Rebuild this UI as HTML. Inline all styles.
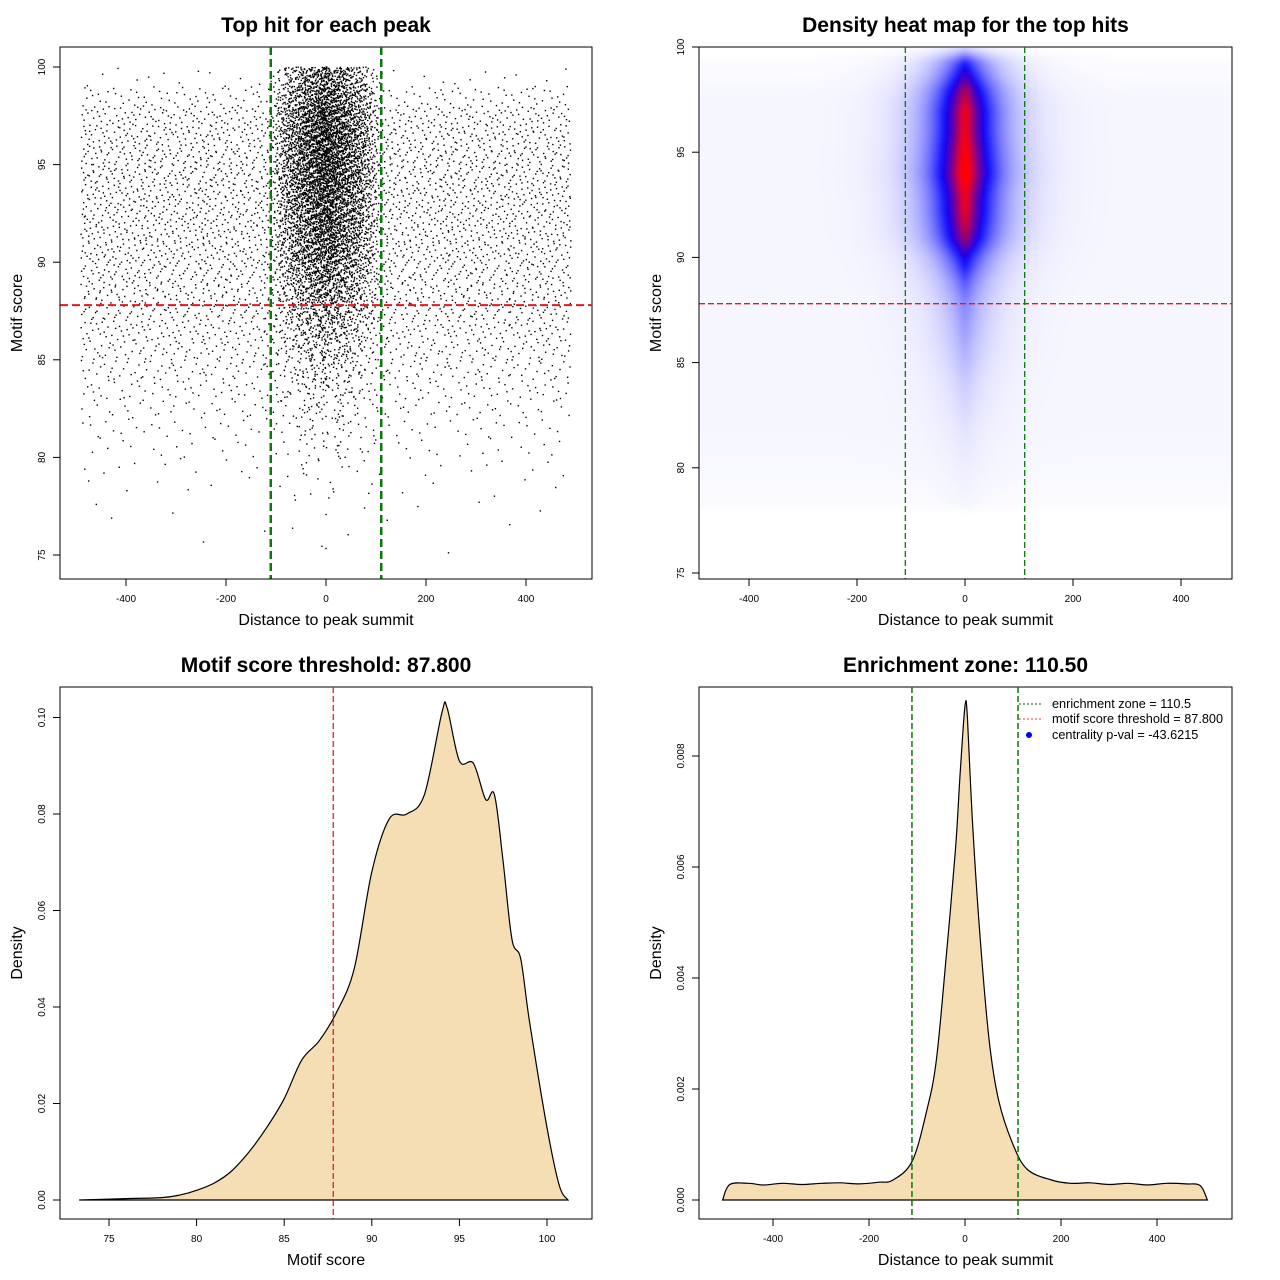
<!DOCTYPE html>
<html><head><meta charset="utf-8"><style>
html,body{margin:0;padding:0;background:#fff;}
svg{display:block;font-family:"Liberation Sans",sans-serif;}
</style></head><body>
<svg id="fig" xmlns="http://www.w3.org/2000/svg" width="1280" height="1280" viewBox="0 0 1280 1280">
<defs>
<clipPath id="clip2"><rect x="700" y="48" width="531" height="530"/></clipPath>
<filter id="blur2" x="-5%" y="-5%" width="110%" height="110%"><feGaussianBlur stdDeviation="3"/></filter>
</defs>
</svg>
<script>
// ---------- DATA ----------
const scatterBins = [75,76,77,78,79,80,81,82,83,84,85,86,87,88,89,90,91,92,93,94,95,96,97,98,99];
const bgCounts = [3,4,6,15,25,40,60,90,120,160,200,230,260,280,300,320,330,340,340,340,330,310,270,140,30];
const centralCounts = [1,2,3,5,8,15,22,30,45,60,100,150,200,280,350,450,500,550,600,650,650,650,600,500,400];
const heatScores = [78,80,82,84,86,88,89,90,91,92,93,94,95,96,97,97.5,98,98.5,99,99.3,99.7,100];
const heatCentral = [0.01,0.02,0.04,0.08,0.15,0.22,0.32,0.5,0.85,1.0,1.05,1.25,1.15,1.05,1.05,0.95,0.85,0.65,0.5,0.45,0.2,0.05];
const heatBg = [0.005,0.012,0.015,0.015,0.015,0.015,0.015,0.015,0.015,0.015,0.015,0.015,0.015,0.015,0.015,0.015,0.012,0.01,0.008,0.006,0.003,0.0];
const scoreX = [73.3,76,78,79,80,81,82,83,84,85,86,87,88,89,90,91,92,93,94,94.3,95,95.8,96.5,97,97.5,98,98.5,99,100,100.7,101.2];
const scoreD = [0,0.0003,0.0005,0.001,0.002,0.0035,0.006,0.010,0.015,0.021,0.029,0.033,0.039,0.048,0.068,0.079,0.080,0.084,0.101,0.102,0.091,0.0905,0.083,0.084,0.070,0.054,0.050,0.037,0.015,0.003,0];
const distX = [-505,-490,-450,-420,-380,-340,-300,-260,-220,-180,-150,-110,-80,-60,-40,-20,-10,0,5,15,30,50,70,100,130,180,220,260,300,340,380,420,460,490,505];
const distD = [0,0.00028,0.0003,0.00027,0.0003,0.00028,0.0003,0.00031,0.00029,0.00032,0.00036,0.0007,0.0016,0.0025,0.0043,0.0063,0.0077,0.0089,0.0087,0.0069,0.0049,0.0029,0.0018,0.001,0.00055,0.00036,0.0003,0.00031,0.00028,0.0003,0.00027,0.0003,0.00029,0.00026,0];
const enrichZone = 110.5;
const scoreThreshold = 87.8;
const ticksDist = [-400,-200,0,200,400];
const ticksScore = [75,80,85,90,95,100];
const ticksD3 = [0,0.02,0.04,0.06,0.08,0.10];
const ticksD3Lab = ["0.00","0.02","0.04","0.06","0.08","0.10"];
const ticksD4 = [0,0.002,0.004,0.006,0.008];
const ticksD4Lab = ["0.000","0.002","0.004","0.006","0.008"];

// ---------- SCALES ----------
const x1 = v => 326 + v*0.5,   y1 = v => 555 - (v-75)*19.52;
const x2 = v => 965 + v*0.54,  y2 = v => 573 - (v-75)*21.04;
const x3 = v => 109 + (v-75)*17.52, y3 = v => 1200 - v*4825;
const x4 = v => 965 + v*0.48,  y4 = v => 1200 - v*55500;

const svg = document.getElementById('fig');
const NS = 'http://www.w3.org/2000/svg';
function mk(tag, attrs, parent){
  const e = document.createElementNS(NS, tag);
  for (const k in attrs) e.setAttribute(k, attrs[k]);
  (parent||svg).appendChild(e);
  return e;
}
function txt(s, x, y, size, opts, parent){
  const t = mk('text', Object.assign({x:x,y:y,'font-size':size,'text-anchor':'middle',fill:'#000'}, opts||{}), parent);
  t.textContent = s;
  return t;
}
function group(name){
  const g = mk('g', {});
  
  
  return g;
}
function frame(g, x0, y0, x1_, y1_, title, xlab, ylab){
  const b = mk('rect', {x:x0,y:y0,width:x1_-x0,height:y1_-y0,fill:'none',stroke:'#000','stroke-width':1}, g);
  
  
  const t = txt(title, (x0+x1_)/2, y0-15, 21, {'font-weight':'bold'}, g);
  
  
  const xl = txt(xlab, (x0+x1_)/2, y1_+46, 16, {}, g);
  
  
  const cy = (y0+y1_)/2;
  const yl = txt(ylab, x0-38, cy, 16, {transform:`rotate(-90 ${x0-38} ${cy})`}, g);
  
  
}
function xAxis(g, ticks, labels, sx, ybase){
  const a = mk('line', {x1:sx(ticks[0]),x2:sx(ticks[ticks.length-1]),y1:ybase,y2:ybase,stroke:'#000'}, g);
  
  
  ticks.forEach((v,i)=>{
    const l = mk('line', {x1:sx(v),x2:sx(v),y1:ybase,y2:ybase+7,stroke:'#000'}, g);
    
    
    const t = txt(labels[i], sx(v), ybase+23, 10, {}, g);
    
    
  });
}
function yAxis(g, ticks, labels, sy, xbase){
  const a = mk('line', {x1:xbase,x2:xbase,y1:sy(ticks[0]),y2:sy(ticks[ticks.length-1]),stroke:'#000'}, g);
  
  
  ticks.forEach((v,i)=>{
    const l = mk('line', {x1:xbase-7,x2:xbase,y1:sy(v),y2:sy(v),stroke:'#000'}, g);
    
    
    const tx = xbase-15;
    const t = txt(labels[i], tx, sy(v), 10, {transform:`rotate(-90 ${tx} ${sy(v)})`}, g);
    
    
  });
}
function halton(i, b){ let f=1, r=0; while(i>0){ f/=b; r+=f*(i%b); i=Math.floor(i/b);} return r; }
function interp(xs, ys, v){
  if (v<=xs[0]) return ys[0];
  if (v>=xs[xs.length-1]) return ys[ys.length-1];
  for (let i=1;i<xs.length;i++) if (v<=xs[i]){ const t=(v-xs[i-1])/(xs[i]-xs[i-1]); return ys[i-1]+t*(ys[i]-ys[i-1]); }
}
function smoothPath(P){
  let d = `M${P[0][0].toFixed(1)},${P[0][1].toFixed(1)}`;
  for (let i=0;i<P.length-1;i++){
    const p0=P[Math.max(0,i-1)], p1=P[i], p2=P[i+1], p3=P[Math.min(P.length-1,i+2)];
    const c1=[p1[0]+(p2[0]-p0[0])/6, p1[1]+(p2[1]-p0[1])/6];
    const c2=[p2[0]-(p3[0]-p1[0])/6, p2[1]-(p3[1]-p1[1])/6];
    d += ` C${c1[0].toFixed(1)},${c1[1].toFixed(1)} ${c2[0].toFixed(1)},${c2[1].toFixed(1)} ${p2[0].toFixed(1)},${p2[1].toFixed(1)}`;
  }
  return d;
}

// ---------- PANEL 1: scatter ----------
const g1 = group('scatter-panel');
frame(g1, 60, 47, 592, 579, 'Top hit for each peak', 'Distance to peak summit', 'Motif score');
const pts = group('scatter-points');
g1.appendChild(pts);
let idx = 1;
scatterBins.forEach((s,bi)=>{
  const nb = bgCounts[bi];
  for (let k=0;k<nb;k++,idx++){
    const dx = -490 + 980*halton(idx,2);
    const sc = s + halton(idx,3);
    const r = mk('rect', {x:x1(dx)-0.7,y:y1(sc)-0.7,width:1.4,height:1.4,fill:'#000'}, pts);
    
  }
  const nc = centralCounts[bi];
  for (let k=0;k<nc;k++,idx++){
    const u = halton(idx,2), w = halton(idx,5);
    const dx = (u+w-1)*110;
    const sc = s + halton(idx,3);
    const r = mk('rect', {x:x1(dx)-0.7,y:y1(sc)-0.7,width:1.4,height:1.4,fill:'#000'}, pts);
    
  }
});
const h1 = mk('line', {x1:60,x2:592,y1:y1(scoreThreshold),y2:y1(scoreThreshold),stroke:'#e31a1c','stroke-width':2,'stroke-dasharray':'8,4'}, g1);


[-enrichZone, enrichZone].forEach(v=>{
  const l = mk('line', {x1:x1(v),x2:x1(v),y1:47,y2:579,stroke:'#0a7a0a','stroke-width':2.5,'stroke-dasharray':'8,4'}, g1);
  
  
});
xAxis(g1, ticksDist, ticksDist.map(String), x1, 579);
yAxis(g1, ticksScore, ticksScore.map(String), y1, 60);

// ---------- PANEL 2: heat map ----------
const g2 = group('heatmap-panel');
const hm = mk('g', {'clip-path':'url(#clip2)'}, g2);
const hmInner = mk('g', {filter:'url(#blur2)'}, hm);

function heatColor(v){
  v = Math.max(0, Math.min(1, v));
  if (v < 0.45){ const t=v/0.45; const c=Math.round(255*(1-t)); return `rgb(${c},${c},255)`; }
  const t=(v-0.45)/0.55; return `rgb(${Math.round(255*t)},0,${Math.round(255*(1-t))})`;
}
for (let s=78; s<100.25; s+=0.25){
  const c = interp(heatScores, heatCentral, s+0.125), b = interp(heatScores, heatBg, s+0.125);
  for (let d=-500; d<500; d+=4){
    const v = c*Math.exp(-Math.abs(d+2)/42) + b;
    if (v < 0.004) continue;
    const r = mk('rect', {x:x2(d),y:y2(s+0.25),width:0.54*4+0.6,height:21.04*0.25+0.6,fill:heatColor(v)}, hmInner);
    
  }
}
frame(g2, 699, 47, 1232, 579, 'Density heat map for the top hits', 'Distance to peak summit', 'Motif score');
const h2 = mk('line', {x1:699,x2:1232,y1:y2(scoreThreshold),y2:y2(scoreThreshold),stroke:'#e31a1c','stroke-width':1.3,'stroke-dasharray':'6,3'}, g2);


[-enrichZone, enrichZone].forEach(v=>{
  const l = mk('line', {x1:x2(v),x2:x2(v),y1:47,y2:579,stroke:'#0a7a0a','stroke-width':1.3,'stroke-dasharray':'6,3'}, g2);
  
  
});
xAxis(g2, ticksDist, ticksDist.map(String), x2, 579);
yAxis(g2, ticksScore, ticksScore.map(String), y2, 699);

// ---------- PANEL 3: score density ----------
const g3 = group('score-density-panel');
frame(g3, 60, 687, 592, 1219, 'Motif score threshold: 87.800', 'Motif score', 'Density');
const p3 = smoothPath(scoreX.map((v,i)=>[x3(v), y3(scoreD[i])]));
const a3 = mk('path', {d:p3+' Z',fill:'#f5deb3',stroke:'#000','stroke-width':1.2}, g3);


const v3 = mk('line', {x1:x3(scoreThreshold),x2:x3(scoreThreshold),y1:687,y2:1219,stroke:'#d62728','stroke-width':1.3,'stroke-dasharray':'6,3'}, g3);


xAxis(g3, ticksScore, ticksScore.map(String), x3, 1219);
yAxis(g3, ticksD3, ticksD3Lab, y3, 60);

// ---------- PANEL 4: distance density ----------
const g4 = group('distance-density-panel');
frame(g4, 699, 687, 1232, 1219, 'Enrichment zone: 110.50', 'Distance to peak summit', 'Density');
const p4 = smoothPath(distX.map((v,i)=>[x4(v), y4(distD[i])]));
const a4 = mk('path', {d:p4+' Z',fill:'#f5deb3',stroke:'#000','stroke-width':1.2}, g4);


[-enrichZone, enrichZone].forEach(v=>{
  const l = mk('line', {x1:x4(v),x2:x4(v),y1:687,y2:1219,stroke:'#0a7a0a','stroke-width':1.5,'stroke-dasharray':'6,3'}, g4);
  
  
});
xAxis(g4, ticksDist, ticksDist.map(String), x4, 1219);
yAxis(g4, ticksD4, ticksD4Lab, y4, 699);
// legend
const lg = group('legend');
const l1 = mk('line', {x1:1019,x2:1043,y1:704,y2:704,stroke:'#0a5a0a','stroke-width':1,'stroke-dasharray':'2,2'}, lg);

const l2 = mk('line', {x1:1019,x2:1043,y1:719,y2:719,stroke:'#ff3030','stroke-width':1,'stroke-dasharray':'2,2'}, lg);

const l3 = mk('circle', {cx:1029,cy:735,r:3,fill:'#0000ff'}, lg);

[['enrichment zone = 110.5',708],['motif score threshold = 87.800',723],['centrality p-val = -43.6215',739]].forEach(a=>{
  const t = txt(a[0], 1052, a[1], 12.7, {'text-anchor':'start'}, lg);
  
  
});
</script>
</body></html>
